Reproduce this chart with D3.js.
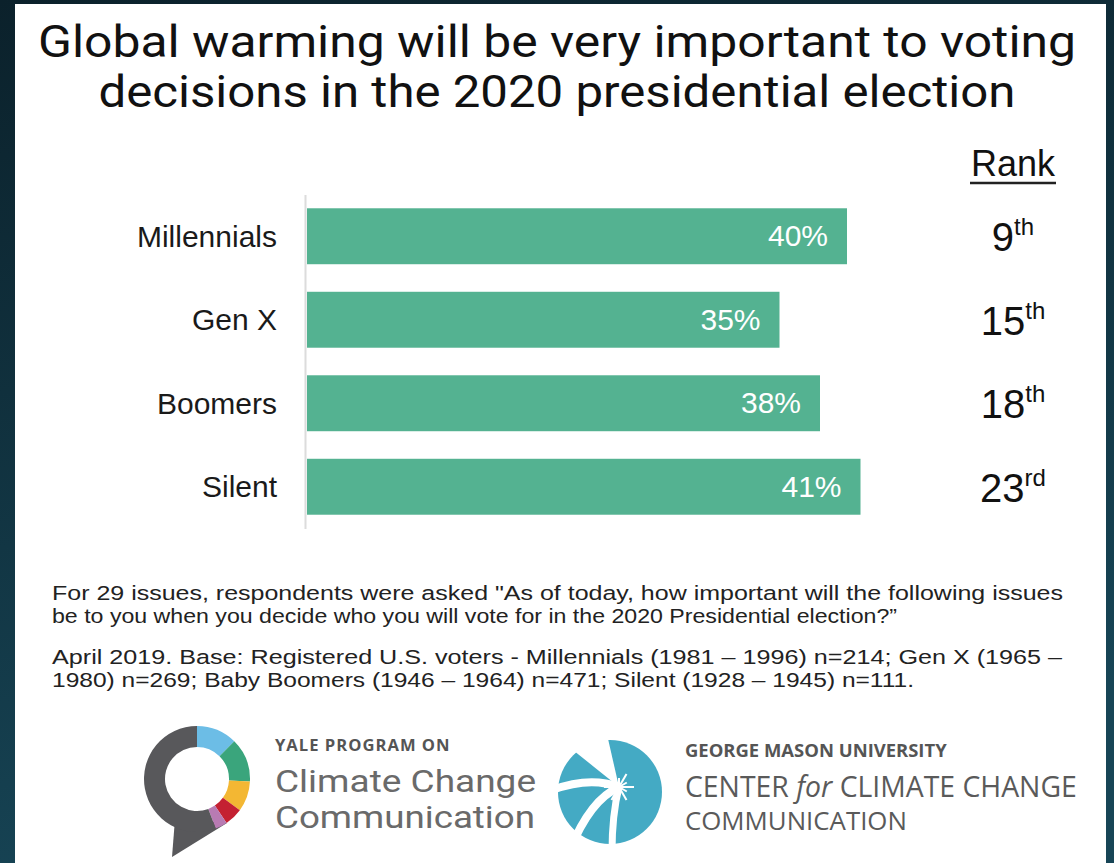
<!DOCTYPE html>
<html>
<head>
<meta charset="utf-8">
<script src="https://cdn.jsdelivr.net/npm/d3@7"></script>
<style>
html,body{margin:0;padding:0;background:#0f2d3a;}
svg{display:block;}
</style>
</head>
<body>
<svg id="chart" width="1114" height="863"></svg>
<script>
// ---- data ----
const categories = ["Millennials", "Gen X", "Boomers", "Silent"];
const values = [40, 35, 38, 41];
const rankNumbers = ["9", "15", "18", "23"];
const rankSuffixes = ["th", "th", "th", "rd"];
const titleLines = ["Global warming will be very important to voting",
                    "decisions in the 2020 presidential election"];
const noteLines = [
  "For 29 issues, respondents were asked \"As of today, how important will the following issues",
  "be to you when you decide who you will vote for in the 2020 Presidential election?\u201D",
  "April 2019. Base: Registered U.S. voters - Millennials (1981 \u2013 1996) n=214; Gen X (1965 \u2013",
  "1980) n=269; Baby Boomers (1946 \u2013 1964) n=471; Silent (1928 \u2013 1945) n=111."
];

const svg = d3.select("#chart");
const W = 1114, H = 863;

// background frame + card
const defs = svg.append("defs");
const g0 = defs.append("linearGradient").attr("id","bg").attr("x1","0").attr("y1","0").attr("x2","0.3").attr("y2","1");
g0.append("stop").attr("offset","0").attr("stop-color","#0b212b");
g0.append("stop").attr("offset","1").attr("stop-color","#174556");
svg.append("rect").attr("width",W).attr("height",H).attr("fill","url(#bg)");
svg.append("rect").attr("x",15).attr("y",4).attr("width",1091).attr("height",H).attr("fill","#ffffff");

function fit(sel, target){
  sel.each(function(){
    const w = this.getComputedTextLength();
    const fs = parseFloat(this.getAttribute("font-size"));
    this.setAttribute("font-size", (fs*target/w).toFixed(2));
  });
}

// title
const titleW = [1038, 917];
svg.selectAll("text.title").data(titleLines).join("text")
  .attr("class","title")
  .attr("x",557).attr("y",(d,i)=>57+i*50)
  .attr("text-anchor","middle")
  .attr("font-family","Roboto, 'Open Sans', sans-serif")
  .attr("font-size",45).attr("fill","#111")
  .attr("textLength",(d,i)=>titleW[i]).attr("lengthAdjust","spacingAndGlyphs")
  .text(d=>d);

// scales
const x = d3.scaleLinear().domain([0,40]).range([307,847]);
const y = d3.scaleBand().domain(categories).range([194.5,528.5]).paddingInner(0.33).paddingOuter(0.165);

// axis (category labels + vertical line)
const yAxis = svg.append("g").attr("transform","translate(305,0)")
  .call(d3.axisLeft(y).tickSize(0).tickSizeOuter(0).tickPadding(28));
yAxis.select(".domain").attr("stroke","#dcdcdc").attr("stroke-width",2);
yAxis.selectAll("text")
  .attr("font-family","'Liberation Sans', Arial, sans-serif")
  .attr("font-size",30).attr("fill","#1a1a1a").attr("dy","0.35em");

// bars
const data = categories.map((c,i)=>({cat:c, val:values[i], rn:rankNumbers[i], rs:rankSuffixes[i]}));
svg.selectAll("rect.bar").data(data).join("rect")
  .attr("class","bar")
  .attr("x",x(0)).attr("y",d=>y(d.cat))
  .attr("width",d=>x(d.val)-x(0)).attr("height",y.bandwidth())
  .attr("fill","#54b291");

svg.selectAll("text.val").data(data).join("text")
  .attr("class","val")
  .attr("x",d=>x(d.val)-19).attr("y",d=>y(d.cat)+y.bandwidth()/2+10)
  .attr("text-anchor","end")
  .attr("font-family","'Liberation Sans', Arial, sans-serif")
  .attr("font-size",30).attr("fill","#ffffff")
  .text(d=>d.val+"%");

// rank column
svg.append("text").attr("x",1013).attr("y",176).attr("text-anchor","middle")
  .attr("font-family","'Liberation Sans', Arial, sans-serif")
  .attr("font-size",36).attr("fill","#111").text("Rank");
svg.append("line").attr("x1",970).attr("x2",1056).attr("y1",183).attr("y2",183)
  .attr("stroke","#222").attr("stroke-width",2.5);

const rk = svg.selectAll("text.rank").data(data).join("text")
  .attr("class","rank")
  .attr("x",1013).attr("y",d=>y(d.cat)+y.bandwidth()/2+15)
  .attr("text-anchor","middle")
  .attr("font-family","'Liberation Sans', Arial, sans-serif")
  .attr("fill","#111");
rk.append("tspan").attr("font-size",40).text(d=>d.rn);
rk.append("tspan").attr("font-size",24).attr("dy",-16).text(d=>d.rs);

// notes
const noteY = [600,623,664,687];
const noteW = [1011,845,1010,862];
svg.selectAll("text.note").data(noteLines).join("text")
  .attr("class","note")
  .attr("x",52).attr("y",(d,i)=>noteY[i])
  .attr("font-family","'Liberation Sans', Arial, sans-serif")
  .attr("font-size",20.5).attr("fill","#222")
  .attr("textLength",(d,i)=>noteW[i]).attr("lengthAdjust","spacingAndGlyphs")
  .text(d=>d);

// ---- Yale logo ----
const yale = svg.append("g").attr("transform","translate(197,779)");
const ringSegs = [
  {a0:0, a1:0.78, c:"#6cbde6"},
  {a0:0.78, a1:1.62, c:"#3aa57c"},
  {a0:1.62, a1:2.2, c:"#f3b733"},
  {a0:2.2, a1:2.55, c:"#c42032"},
  {a0:2.55, a1:2.78, c:"#b87bb3"},
  {a0:2.78, a1:Math.PI*2, c:"#58585b"}
];
const arc = d3.arc().innerRadius(32).outerRadius(53);
yale.append("path").attr("d","M-22,40 L30,44 L-25,78 Z").attr("fill","#58585b");
yale.selectAll("path.seg").data(ringSegs).join("path").attr("class","seg")
  .attr("d",d=>arc({startAngle:d.a0,endAngle:d.a1})).attr("fill",d=>d.c);

svg.append("text").attr("x",275).attr("y",751)
  .attr("font-family","'Open Sans', 'DejaVu Sans', sans-serif").attr("font-weight","bold")
  .attr("font-size",13).attr("fill","#555").attr("letter-spacing",1)
  .text("YALE PROGRAM ON").call(fit,180);
svg.append("text").attr("x",275).attr("y",792)
  .attr("font-family","Roboto, sans-serif").attr("font-size",32).attr("fill","#6a6a6a")
  .attr("textLength",261).attr("lengthAdjust","spacingAndGlyphs")
  .text("Climate Change");
svg.append("text").attr("x",275).attr("y",828)
  .attr("font-family","Roboto, sans-serif").attr("font-size",32).attr("fill","#6a6a6a")
  .attr("textLength",260).attr("lengthAdjust","spacingAndGlyphs")
  .text("Communication");

// ---- George Mason logo ----
const gm = svg.append("g");
const teal = "#44aac4";
gm.append("circle").attr("cx",610).attr("cy",792).attr("r",52).attr("fill",teal);
gm.append("path").attr("d","M619,787 L548,730 L606,730 Z").attr("fill","#fff");
gm.append("path").attr("d","M619,787 Q590,776 552,790").attr("fill","none").attr("stroke","#fff").attr("stroke-width",8);
gm.append("path").attr("d","M619,787 Q590,800 570,850").attr("fill","none").attr("stroke","#fff").attr("stroke-width",8);
gm.append("path").attr("d","M619,787 Q612,815 612,852").attr("fill","none").attr("stroke","#fff").attr("stroke-width",7);
const star = gm.append("g").attr("transform","translate(619,787)");
d3.range(12).forEach(k=>{
  const a = k*Math.PI/6;
  const r = k%2 ? 9 : 15;
  star.append("line").attr("x1",0).attr("y1",0).attr("x2",r*Math.cos(a)).attr("y2",r*Math.sin(a))
    .attr("stroke","#fff").attr("stroke-width",2);
});

svg.append("text").attr("x",685).attr("y",757)
  .attr("font-family","'Open Sans', sans-serif").attr("font-weight","bold")
  .attr("font-size",16).attr("fill","#555")
  .text("GEORGE MASON UNIVERSITY").call(fit,262);
const c1 = svg.append("text").attr("x",685).attr("y",797)
  .attr("font-family","'Open Sans', sans-serif").attr("font-size",32).attr("fill","#5a5a5a");
c1.append("tspan").text("CENTER ");
c1.append("tspan").attr("font-style","italic").text("for");
c1.append("tspan").text(" CLIMATE CHANGE");
c1.call(fit,392);
svg.append("text").attr("x",685).attr("y",830)
  .attr("font-family","'Open Sans', sans-serif").attr("font-size",32).attr("fill","#5a5a5a")
  .text("COMMUNICATION").call(fit,222);
</script>
</body>
</html>
